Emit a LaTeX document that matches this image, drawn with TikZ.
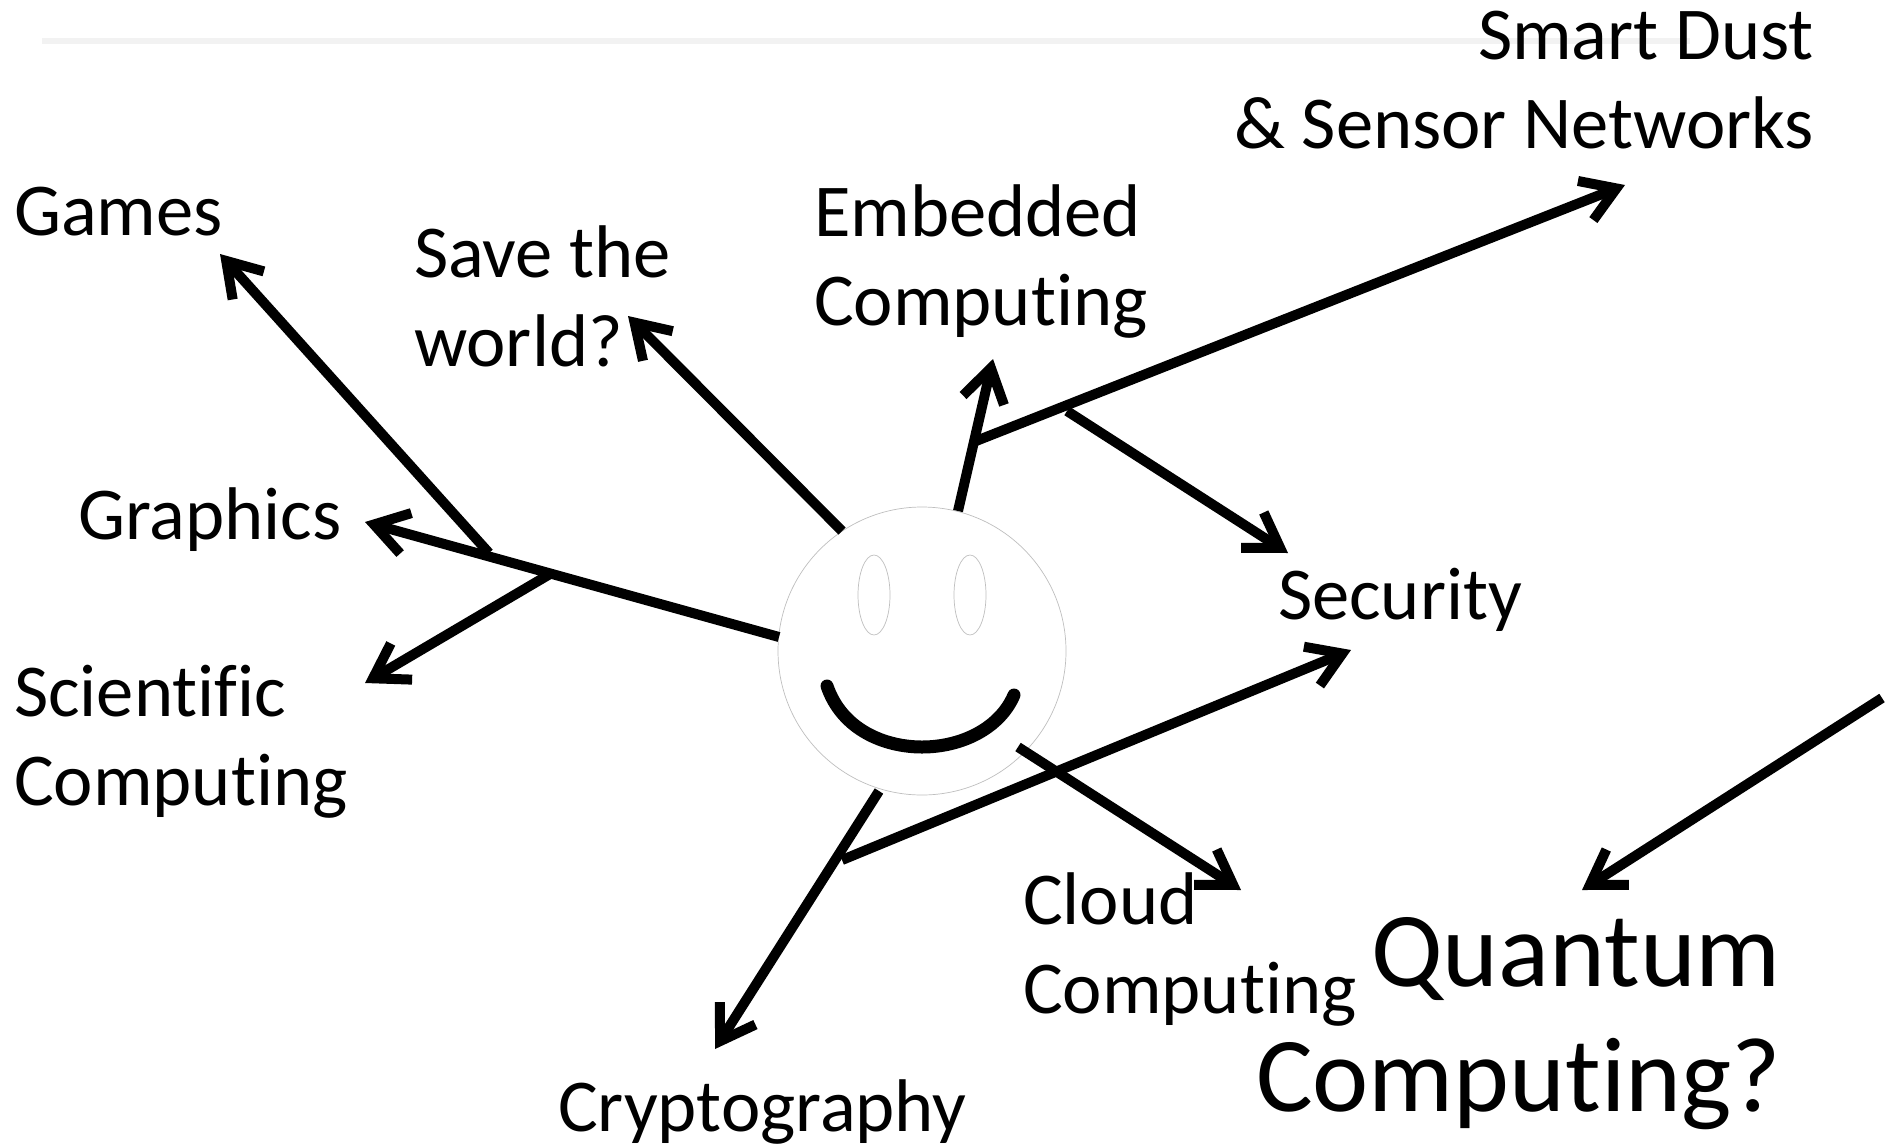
\documentclass[tikz,border=0pt]{standalone}
\usepackage{fontspec}
\setmainfont[Ligatures=NoCommon]{Carlito}
\usetikzlibrary{arrows.meta,shapes.geometric}
\tikzset{
  lab/.style={inner sep=0pt,outer sep=0pt,anchor=base west,align=left,font=\fontsize{74.6}{89}\selectfont},
  labr/.style={lab,anchor=base east,align=right},
  big/.style={inner sep=0pt,outer sep=0pt,anchor=base east,align=right,font=\fontsize{106.4}{125}\selectfont},
  conn/.style={line width=10pt,black,-{Straight Barb[length=33pt,width=42pt,line width=10pt,line cap=round,sharp]}},
  outline/.style={draw=black!25,line width=0.7pt,fill=white},
}
\begin{document}
\begin{tikzpicture}[x=1pt,y=-1pt]
\useasboundingbox (0,0) rectangle (1894,1146);
\fill[black!5] (42,38) rectangle (1690,44);
% face
\node[circle,outline,minimum size=288pt,inner sep=0pt] (face) at (922,651) {};
\node[ellipse,outline,minimum width=32pt,minimum height=80pt,inner sep=0pt] (eyeL) at (874,595) {};
\node[ellipse,outline,minimum width=32pt,minimum height=80pt,inner sep=0pt] (eyeR) at (970,595) {};
\coordinate (smileL) at (827,686);
\coordinate (smileR) at (1014,695);
\draw[line width=13pt,line cap=round] (smileL) .. controls (842,730) and (885,747) .. (922,747) .. controls (962,747) and (1000,728) .. (smileR);
% labels
\node[lab] (games) at (14,235) {Games};
\node[lab] (graphics) at (78,539) {Graphics};
\node[lab] (sci) at (14,805) {Scientific\\Computing};
\node[lab] (save) at (414,366) {Save the\\world?};
\node[lab] (emb) at (814,325) {Embedded\\Computing};
\node[labr] (smart) at (1814,148) {Smart Dust\\\& Sensor Networks};
\node[lab] (sec) at (1278,619) {Security};
\node[lab] (cloud) at (1023,1013) {Cloud\\Computing};
\node[lab] (crypt) at (558,1131) {Cryptography};
\node[big] (quant) at (1781,1111) {Quantum\\Computing?};
% connector ends
\coordinate (aGames) at (220,254);
\coordinate (aGraphics) at (365,522);
\coordinate (aSci) at (365,683);
\coordinate (aSave) at (628,316);
\coordinate (aEmb) at (993,359);
\coordinate (aSmart) at (1625,185);
\coordinate (aSecU) at (1288,553);
\coordinate (aSecL) at (1351,650);
\coordinate (aCrypt) at (715,1049);
\coordinate (aCloud) at (1241,890);
\coordinate (aQuant) at (1582,890);
\coordinate (bGames) at (489,553);
\coordinate (bSci) at (550,574);
\coordinate (bSmart) at (976,441);
\coordinate (bSecU) at (1067,411);
\coordinate (bSecL) at (842,860);
\coordinate (sGraphics) at (779,637);
\coordinate (sSave) at (842,531);
\coordinate (sEmb) at (958,511);
\coordinate (sCrypt) at (879,791);
\coordinate (sCloud) at (1018,747);
\coordinate (sQuant) at (1882,698);
% connectors
\draw[conn] (sGraphics) -- (aGraphics);
\draw[conn] (bGames) -- (aGames);
\draw[conn] (bSci) -- (aSci);
\draw[conn] (sSave) -- (aSave);
\draw[conn] (sEmb) -- (aEmb);
\draw[conn] (bSmart) -- (aSmart);
\draw[conn] (bSecU) -- (aSecU);
\draw[conn] (bSecL) -- (aSecL);
\draw[conn] (sCrypt) -- (aCrypt);
\draw[conn] (sCloud) -- (aCloud);
\draw[conn] (sQuant) -- (aQuant);
\end{tikzpicture}
\end{document}
